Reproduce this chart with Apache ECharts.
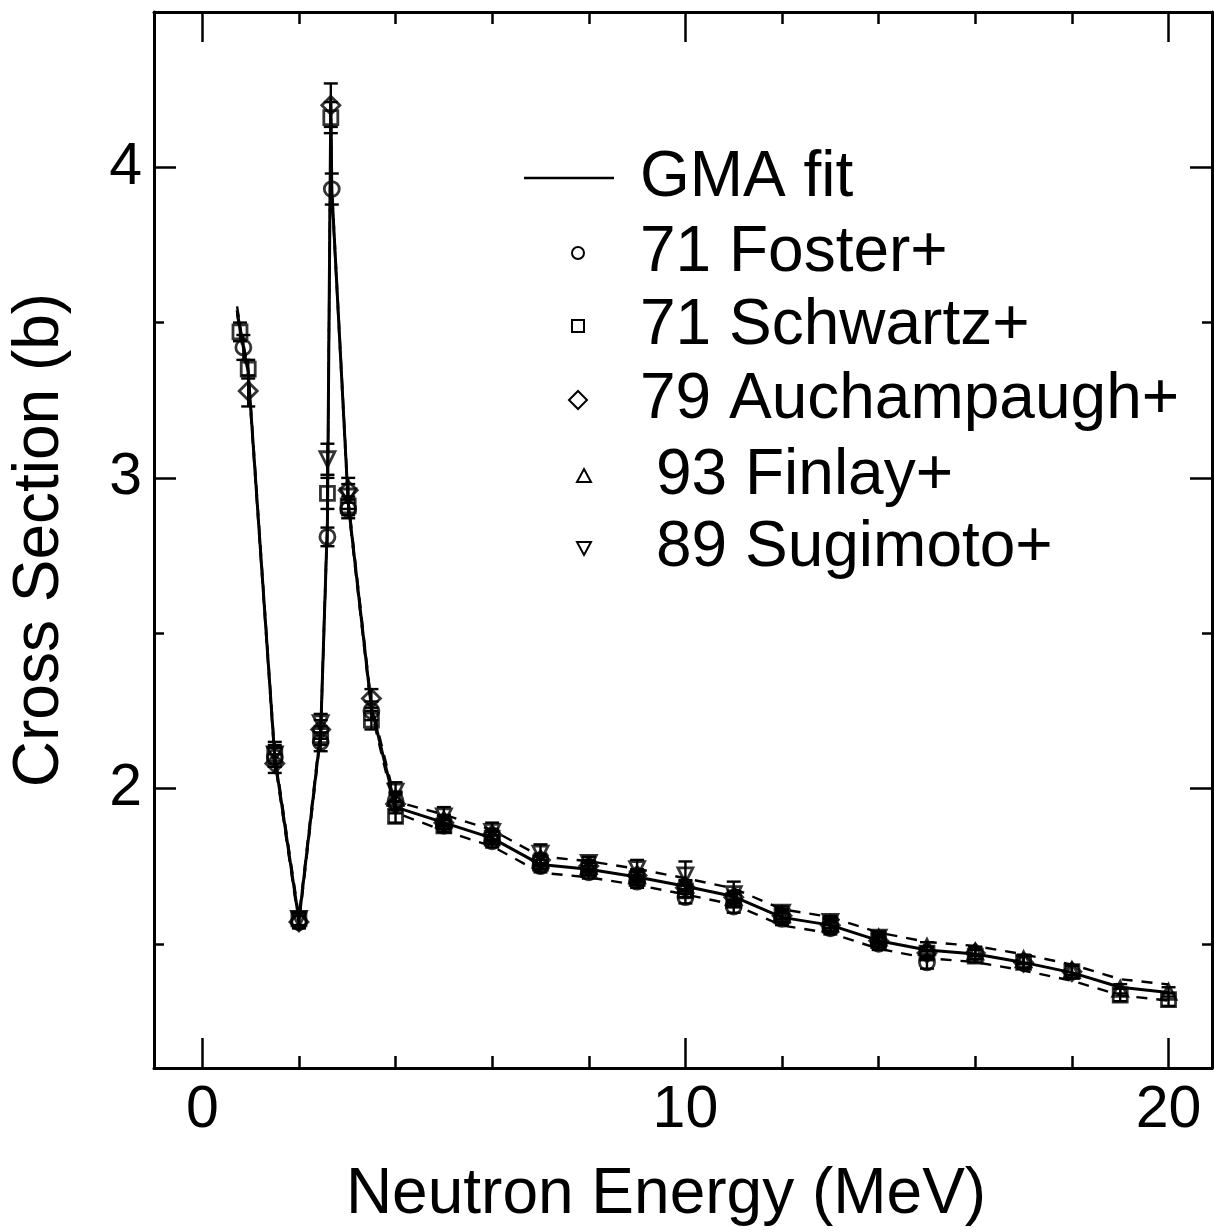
<!DOCTYPE html>
<html>
<head>
<meta charset="utf-8">
<script src="https://cdn.jsdelivr.net/npm/echarts@6/dist/echarts.min.js"></script>
<style>
  html, body { margin: 0; padding: 0; background: #fff; }
  #chart { width: 1214px; height: 1232px; }
</style>
</head>
<body>
<div id="chart"></div>
<script>
// GMA evaluation nodes: energy (MeV), cross section (b), 1-sigma band half-width (b)
const fitEnergy = [0.72, 0.8, 0.95, 1.5, 2.0, 2.45, 2.59, 2.66, 2.68, 3.02, 3.5, 4.0,
  5, 6, 7, 8, 9, 10, 11, 12, 13, 14, 15, 16, 17, 18, 19, 20];
const fitValue = [3.54, 3.46, 3.34, 2.10, 1.575, 2.18, 2.86, 4.22, 3.93, 2.92, 2.26, 1.94,
  1.89, 1.84, 1.755, 1.74, 1.715, 1.685, 1.652, 1.585, 1.56, 1.51, 1.48, 1.467, 1.44, 1.407, 1.36, 1.343];
const fitUnc = [0.012, 0.012, 0.012, 0.012, 0.012, 0.012, 0.012, 0.012, 0.012, 0.012, 0.012, 0.018,
  0.026, 0.026, 0.026, 0.026, 0.026, 0.026, 0.026, 0.026, 0.026, 0.026, 0.026, 0.026, 0.026, 0.026, 0.026, 0.026];

// 71 Foster+
const fosterE = [0.85, 1.5, 2.0, 2.45, 2.59, 2.68, 3.02, 3.5, 4.0, 5, 6, 7, 8, 9, 10, 11, 12, 13, 14, 15];
const fosterXS = [3.42, 2.10, 1.57, 2.15, 2.81, 3.93, 2.90, 2.25, 1.96, 1.88, 1.83, 1.75, 1.73, 1.70, 1.65, 1.62, 1.58, 1.55, 1.50, 1.44];
const fosterErr = [0.04, 0.03, 0.02, 0.03, 0.03, 0.05, 0.03, 0.03, 0.03, 0.02, 0.02, 0.02, 0.02, 0.02, 0.02, 0.02, 0.02, 0.02, 0.02, 0.02];

// 71 Schwartz+
const schwartzE = [0.78, 0.95, 1.5, 2.0, 2.45, 2.59, 2.66, 3.02, 3.5, 4.0, 5, 6, 7, 8, 9, 10, 11, 12, 13, 14, 15, 16, 17, 18, 19, 20];
const schwartzXS = [3.47, 3.35, 2.11, 1.58, 2.17, 2.95, 4.16, 2.91, 2.22, 1.91, 1.88, 1.84, 1.76, 1.74, 1.71, 1.67, 1.64, 1.59, 1.56, 1.51, 1.47, 1.46, 1.44, 1.41, 1.335, 1.32];
const schwartzErr = [0.03, 0.03, 0.03, 0.02, 0.03, 0.05, 0.05, 0.03, 0.03, 0.02, 0.02, 0.02, 0.02, 0.02, 0.02, 0.02, 0.02, 0.02, 0.02, 0.02, 0.02, 0.02, 0.02, 0.02, 0.02, 0.02];

// 79 Auchampaugh+
const auchE = [0.95, 1.5, 2.0, 2.45, 2.66, 3.02, 3.5, 4.0, 5, 6, 7, 8, 9, 10, 11, 12, 13, 14, 15, 16, 17, 18];
const auchXS = [3.28, 2.08, 1.57, 2.19, 4.20, 2.96, 2.29, 1.95, 1.89, 1.85, 1.77, 1.75, 1.72, 1.68, 1.65, 1.59, 1.56, 1.51, 1.47, 1.47, 1.44, 1.41];
const auchErr = [0.05, 0.03, 0.02, 0.03, 0.07, 0.04, 0.03, 0.03, 0.02, 0.02, 0.02, 0.02, 0.02, 0.02, 0.02, 0.02, 0.02, 0.02, 0.02, 0.02, 0.02, 0.02];

// 93 Finlay+
const finlayE = [4.0, 5, 6, 7, 8, 9, 10, 11, 12, 13, 14, 15, 16, 17, 18, 19, 20];
const finlayXS = [1.97, 1.90, 1.85, 1.77, 1.75, 1.72, 1.69, 1.65, 1.595, 1.565, 1.52, 1.49, 1.475, 1.45, 1.415, 1.355, 1.345];
const finlayErr = [0.015, 0.015, 0.015, 0.015, 0.015, 0.015, 0.015, 0.015, 0.015, 0.015, 0.015, 0.015, 0.015, 0.015, 0.015, 0.015, 0.015];

// 89 Sugimoto+
const sugimotoE = [1.5, 2.0, 2.45, 2.59, 3.02, 4.0, 5, 6, 7, 8, 9, 10, 11, 12, 13, 14];
const sugimotoXS = [2.11, 1.58, 2.21, 3.06, 2.94, 1.99, 1.91, 1.86, 1.79, 1.76, 1.74, 1.72, 1.66, 1.60, 1.57, 1.52];
const sugimotoErr = [0.04, 0.02, 0.03, 0.05, 0.04, 0.03, 0.03, 0.03, 0.03, 0.02, 0.03, 0.045, 0.04, 0.02, 0.02, 0.02];

// Axis ticks and labels
const xMajorTicks = [0, 10, 20];
const xMinorTicks = [2, 4, 6, 8, 12, 14, 16, 18];
const yMajorTicks = [2, 3, 4];
const yMinorTicks = [1.5, 2.5, 3.5];

const legendNames = ['GMA fit', '71 Foster+', '71 Schwartz+', '79 Auchampaugh+', '93 Finlay+', '89 Sugimoto+'];

const FONT = '"Liberation Sans", Arial, Helvetica, sans-serif';
const INK = '#000';

const zip = (xs, ys) => xs.map((x, i) => [x, ys[i]]);
const errRows = (xs, ys, es) => xs.map((x, i) => [x, ys[i] - es[i], ys[i] + es[i]]);

function errorBar(params, api) {
  const x = api.value(0);
  const lo = api.coord([x, api.value(1)]);
  const hi = api.coord([x, api.value(2)]);
  const hw = 7;
  const style = { stroke: INK, lineWidth: 2.4, fill: null };
  return {
    type: 'group',
    children: [
      { type: 'line', shape: { x1: lo[0], y1: lo[1], x2: hi[0], y2: hi[1] }, style },
      { type: 'line', shape: { x1: hi[0] - hw, y1: hi[1], x2: hi[0] + hw, y2: hi[1] }, style },
      { type: 'line', shape: { x1: lo[0] - hw, y1: lo[1], x2: lo[0] + hw, y2: lo[1] }, style }
    ]
  };
}

const XMIN = -1, XMAX = 20.9, YMIN = 1.1, YMAX = 4.5;

function xAxisDef(pos, ticks, len, withLine, withLabels) {
  return {
    type: 'value', min: XMIN, max: XMAX, position: pos,
    axisLine: { show: withLine, onZero: false, lineStyle: { color: INK, width: 3 } },
    axisTick: { show: true, inside: true, length: len, customValues: ticks, lineStyle: { color: INK, width: 2.5 } },
    axisLabel: withLabels
      ? { show: true, customValues: xMajorTicks, margin: 13, color: INK, fontFamily: FONT, fontSize: 59 }
      : { show: false },
    splitLine: { show: false }
  };
}
function yAxisDef(pos, ticks, len, withLine, withLabels) {
  return {
    type: 'value', min: YMIN, max: YMAX, position: pos,
    axisLine: { show: withLine, onZero: false, lineStyle: { color: INK, width: 3 } },
    axisTick: { show: true, inside: true, length: len, customValues: ticks, lineStyle: { color: INK, width: 2.5 } },
    axisLabel: withLabels
      ? { show: true, customValues: yMajorTicks, margin: 12, color: INK, fontFamily: FONT, fontSize: 59 }
      : { show: false },
    splitLine: { show: false }
  };
}

const xAxes = [
  xAxisDef('bottom', xMajorTicks, 30, true, true),
  xAxisDef('bottom', xMinorTicks, 12, false, false),
  xAxisDef('top', xMajorTicks, 30, true, false),
  xAxisDef('top', xMinorTicks, 12, false, false)
];
Object.assign(xAxes[0], {
  name: 'Neutron Energy (MeV)', nameLocation: 'middle', nameGap: 95,
  nameTextStyle: { color: INK, fontFamily: FONT, fontSize: 64, padding: [0, 34, 0, 0] }
});
const yAxes = [
  yAxisDef('left', yMajorTicks, 22, true, true),
  yAxisDef('left', yMinorTicks, 10, false, false),
  yAxisDef('right', yMajorTicks, 22, true, false),
  yAxisDef('right', yMinorTicks, 10, false, false)
];
Object.assign(yAxes[0], {
  name: 'Cross Section (b)', nameLocation: 'middle', nameGap: 82, nameRotate: 90,
  nameTextStyle: { color: INK, fontFamily: FONT, fontSize: 64 }
});

const sets = [
  { name: legendNames[1], e: fosterE, v: fosterXS, d: fosterErr, symbol: 'circle', size: 15, rot: 0 },
  { name: legendNames[2], e: schwartzE, v: schwartzXS, d: schwartzErr, symbol: 'rect', size: 14, rot: 0 },
  { name: legendNames[3], e: auchE, v: auchXS, d: auchErr, symbol: 'diamond', size: 18, rot: 0 },
  { name: legendNames[4], e: finlayE, v: finlayXS, d: finlayErr, symbol: 'triangle', size: 15, rot: 0 },
  { name: legendNames[5], e: sugimotoE, v: sugimotoXS, d: sugimotoErr, symbol: 'triangle', size: 15, rot: 180 }
];

const series = [];
const bandStyle = { color: INK, width: 2.4, type: [11, 9] };
series.push({
  type: 'line', name: 'band+', data: fitEnergy.map((e, i) => [e, fitValue[i] + fitUnc[i]]),
  showSymbol: false, lineStyle: bandStyle, silent: true, z: 2
});
series.push({
  type: 'line', name: 'band-', data: fitEnergy.map((e, i) => [e, fitValue[i] - fitUnc[i]]),
  showSymbol: false, lineStyle: bandStyle, silent: true, z: 2
});
series.push({
  type: 'line', name: legendNames[0], data: zip(fitEnergy, fitValue),
  showSymbol: false, lineStyle: { color: INK, width: 3 }, silent: true, z: 3
});
sets.forEach(s => {
  series.push({
    type: 'custom', name: s.name + ' err', renderItem: errorBar,
    data: errRows(s.e, s.v, s.d), encode: { x: 0, y: [1, 2] }, clip: true, silent: true, z: 4
  });
});
sets.forEach(s => {
  series.push({
    type: 'scatter', name: s.name, data: zip(s.e, s.v),
    symbol: s.symbol, symbolSize: s.size, symbolRotate: s.rot,
    itemStyle: { color: 'rgba(0,0,0,0)', borderColor: INK, borderWidth: 2.8 },
    silent: true, z: 5
  });
});

// Legend block drawn as graphic elements
const legendFont = '64px ' + FONT;
const rowY = [178, 253, 326, 400, 476, 548];
const textX = [640, 640, 640, 640, 656, 656];
const legendGraphics = [
  { type: 'line', shape: { x1: 524, y1: rowY[0], x2: 614, y2: rowY[0] }, style: { stroke: INK, lineWidth: 2.5 } },
  { type: 'circle', shape: { cx: 578, cy: rowY[1], r: 6 }, style: { stroke: INK, lineWidth: 2, fill: null } },
  { type: 'rect', shape: { x: 572, y: rowY[2] - 6, width: 12, height: 12 }, style: { stroke: INK, lineWidth: 2, fill: null } },
  { type: 'polygon', shape: { points: [[578, rowY[3] - 9], [587, rowY[3]], [578, rowY[3] + 9], [569, rowY[3]]] }, style: { stroke: INK, lineWidth: 2, fill: null } },
  { type: 'polygon', shape: { points: [[584, rowY[4] - 7], [591, rowY[4] + 6], [577, rowY[4] + 6]] }, style: { stroke: INK, lineWidth: 2, fill: null } },
  { type: 'polygon', shape: { points: [[584, rowY[5] + 7], [591, rowY[5] - 6], [577, rowY[5] - 6]] }, style: { stroke: INK, lineWidth: 2, fill: null } }
];
legendNames.forEach((n, i) => {
  legendGraphics.push({
    type: 'text', x: textX[i], y: rowY[i],
    style: { text: n, font: legendFont, fill: INK, align: 'left', verticalAlign: 'middle' }
  });
});

const chart = echarts.init(document.getElementById('chart'), null, { renderer: 'canvas' });
chart.setOption({
  backgroundColor: '#fff',
  animation: false,
  grid: { left: 152, right: 2, top: 12, bottom: 163, containLabel: false },
  xAxis: xAxes,
  yAxis: yAxes,
  series: series,
  graphic: legendGraphics
});
</script>
</body>
</html>
